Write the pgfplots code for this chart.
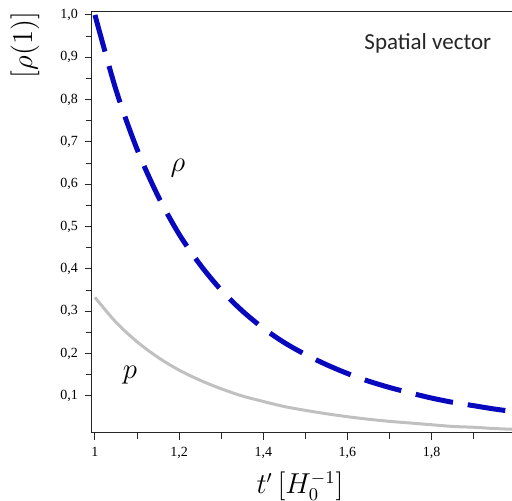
\documentclass[border=0pt]{standalone}
\usepackage{fontspec}
\setmainfont{Liberation Serif}
\newfontfamily\calib{Carlito}
\usepackage{pgfplots}
\pgfplotsset{compat=1.18}
\definecolor{rhoblue}{RGB}{8,8,190}
\definecolor{pgray}{RGB}{192,192,192}
\begin{document}
\begin{tikzpicture}
\useasboundingbox (-46pt,-34pt) rectangle (210pt,216.5pt);
\clip (-46pt,-34pt) rectangle (210pt,216.5pt);
\begin{axis}[
  at={(0,0)}, anchor=south west,
  scale only axis, width=214pt, height=210.5pt,
  xmin=0.993, xmax=2.01, ymin=0.0125, ymax=1.007,
  axis line style={line width=0.5pt, black!85},
  tick style={black!85, line width=0.5pt},
  tick align=outside, tick pos=left,
  major tick length=3.5pt, minor tick length=3pt,
  xtick={1,1.2,1.4,1.6,1.8,2},
  ytick={0.1,0.2,0.3,0.4,0.5,0.6,0.7,0.8,0.9,1.0},
  minor tick num=1,
  /pgf/number format/assume math mode=true,
  xticklabel style={font=\fontsize{7}{8}\selectfont, /pgf/number format/use comma},
  yticklabel style={font=\fontsize{7}{8}\selectfont, /pgf/number format/.cd, fixed, fixed zerofill, precision=1, use comma},
  xlabel={$t'\left[H_0^{-1}\right]$},
  ylabel={$[\rho(1)]$},
  xlabel style={font=\fontsize{13.5}{15}\selectfont, at={(axis description cs:0.486,-0.126)}, anchor=center},
  ylabel style={font=\fontsize{13.5}{15}\selectfont, at={(axis description cs:-0.1565,0.9216)}, anchor=center, rotate=0},
  clip=true,
]
\addplot[rhoblue, line width=2.5pt, dash pattern=on 19pt off 7.5pt, smooth] coordinates {
(1.00,1.000) (1.05,0.823) (1.10,0.683) (1.15,0.572) (1.20,0.482) (1.25,0.410)
(1.30,0.350) (1.35,0.301) (1.40,0.260) (1.45,0.226) (1.50,0.198) (1.55,0.174)
(1.60,0.153) (1.65,0.135) (1.70,0.120) (1.75,0.107) (1.80,0.095) (1.85,0.085)
(1.90,0.077) (1.95,0.069) (2.00,0.0625)
};
\addplot[pgray, line width=1.5pt, smooth] coordinates {
(1.00,0.333) (1.05,0.274) (1.10,0.228) (1.15,0.191) (1.20,0.161) (1.25,0.137)
(1.30,0.117) (1.35,0.100) (1.40,0.087) (1.45,0.075) (1.50,0.066) (1.55,0.058)
(1.60,0.051) (1.65,0.045) (1.70,0.040) (1.75,0.036) (1.80,0.032) (1.85,0.028)
(1.90,0.026) (1.95,0.023) (2.00,0.021)
};
\node[font=\fontsize{13.5}{15}\selectfont] at (axis cs:1.197,0.638) {$\rho$};
\node[font=\fontsize{13.5}{15}\selectfont] at (axis cs:1.083,0.149) {$p$};
\node[font=\calib\fontsize{11.5}{13}\selectfont, text=black!85] at (axis cs:1.791,0.934) {Spatial vector};
\end{axis}
\end{tikzpicture}
\end{document}
